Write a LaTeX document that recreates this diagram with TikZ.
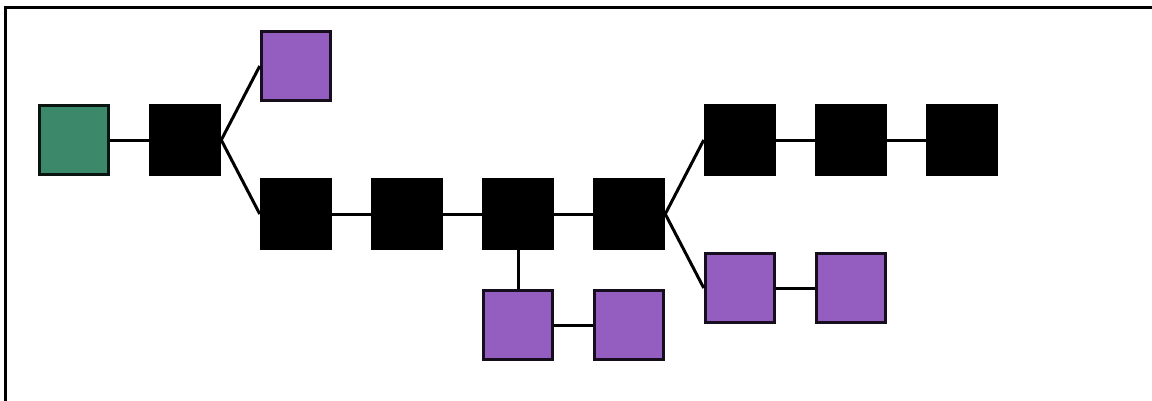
\documentclass[tikz,border=0pt]{standalone}
\definecolor{blockgreen}{HTML}{3C886B}
\definecolor{blockpurple}{HTML}{935EC0}
\tikzset{
  blk/.style={draw=black, line width=3pt, minimum size=69.5pt, inner sep=0pt, rectangle},
  mainblk/.style={blk, fill=black},
  orphan/.style={blk, fill=blockpurple, draw=black!85!blockpurple},
  genesis/.style={blk, fill=blockgreen, draw=black!85!blockgreen},
  link/.style={line width=3pt, draw=black}
}
\begin{document}
\begin{tikzpicture}[x=1pt,y=-1pt]
\useasboundingbox (0,0) rectangle (1152,400);
\fill[white] (0,0) rectangle (1152,400);
\draw[line width=3pt] (5,401) -- (5,7) -- (1153,7);
\node[genesis] (g) at (74,140) {};
\node[mainblk] (b1) at (185,140) {};
\node[orphan] (p1) at (296,66) {};
\node[mainblk] (b2) at (296,214) {};
\node[mainblk] (b3) at (407,214) {};
\node[mainblk] (b4) at (518,214) {};
\node[mainblk] (b5) at (629,214) {};
\node[orphan] (p2) at (518,325) {};
\node[orphan] (p3) at (629,325) {};
\node[mainblk] (b6) at (740,140) {};
\node[mainblk] (b7) at (851,140) {};
\node[mainblk] (b8) at (962,140) {};
\node[orphan] (p4) at (740,288) {};
\node[orphan] (p5) at (851,288) {};
\draw[link] (g.east) -- (b1.west);
\draw[link] (b1.east) -- (p1.west);
\draw[link] (b1.east) -- (b2.west);
\draw[link] (b2.east) -- (b3.west);
\draw[link] (b3.east) -- (b4.west);
\draw[link] (b4.east) -- (b5.west);
\draw[link] (b4.south) -- (p2.north);
\draw[link] (p2.east) -- (p3.west);
\draw[link] (b5.east) -- (b6.west);
\draw[link] (b5.east) -- (p4.west);
\draw[link] (b6.east) -- (b7.west);
\draw[link] (b7.east) -- (b8.west);
\draw[link] (p4.east) -- (p5.west);
\end{tikzpicture}
\end{document}
